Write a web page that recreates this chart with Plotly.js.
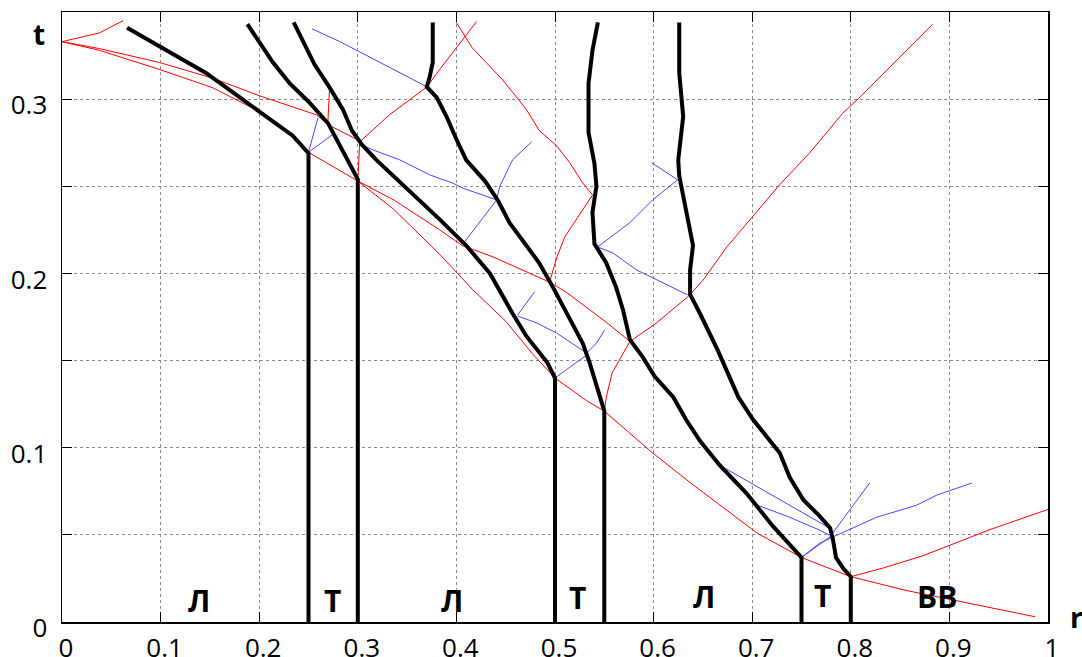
<!DOCTYPE html>
<html>
<head>
<meta charset="utf-8">
<script src="https://cdn.plot.ly/plotly-3.0.1.min.js"></script>
<style>html,body{margin:0;padding:0;background:#fff;}#chart{width:1082px;height:657px;}</style>
</head>
<body>
<div id="chart"></div>
<script>
// ---- Thick black boundaries (r, t) ----
const lineA_r = [0.066, 0.146, 0.173, 0.207, 0.234, 0.25, 0.25];
const lineA_t = [0.341, 0.315, 0.304, 0.290, 0.279, 0.269, 0];
const lineB_r = [0.188, 0.214, 0.231, 0.251, 0.270, 0.282, 0.292, 0.30, 0.30];
const lineB_t = [0.343, 0.321, 0.309, 0.298, 0.286, 0.273, 0.262, 0.254, 0];
const lineC_r = [0.235, 0.243, 0.256, 0.271, 0.285, 0.294, 0.304, 0.319, 0.342, 0.363, 0.383, 0.410, 0.434, 0.457, 0.471, 0.492, 0.50, 0.50];
const lineC_t = [0.344, 0.335, 0.320, 0.307, 0.294, 0.282, 0.274, 0.265, 0.253, 0.242, 0.231, 0.216, 0.200, 0.177, 0.164, 0.149, 0.140, 0];
const lineD_r = [0.376, 0.376, 0.373, 0.370, 0.380, 0.390, 0.400, 0.410, 0.429, 0.442, 0.454, 0.467, 0.484, 0.498, 0.512, 0.528, 0.535, 0.545, 0.55, 0.55];
const lineD_t = [0.344, 0.321, 0.313, 0.307, 0.301, 0.290, 0.277, 0.265, 0.253, 0.242, 0.229, 0.219, 0.206, 0.192, 0.177, 0.160, 0.149, 0.129, 0.121, 0];
const lineE_r = [0.5435, 0.538, 0.534, 0.534, 0.540, 0.542, 0.538, 0.540, 0.552, 0.562, 0.569, 0.576, 0.589, 0.601, 0.620, 0.633, 0.647, 0.667, 0.694, 0.721, 0.75, 0.75];
const lineE_t = [0.344, 0.328, 0.309, 0.281, 0.263, 0.250, 0.235, 0.217, 0.206, 0.192, 0.179, 0.162, 0.152, 0.141, 0.129, 0.116, 0.104, 0.090, 0.074, 0.055, 0.037, 0];
const lineF_r = [0.626, 0.626, 0.630, 0.625, 0.626, 0.633, 0.640, 0.637, 0.637, 0.647, 0.654, 0.665, 0.686, 0.701, 0.718, 0.728, 0.738, 0.752, 0.768, 0.779, 0.782, 0.785, 0.792, 0.80, 0.80];
const lineF_t = [0.344, 0.315, 0.290, 0.265, 0.256, 0.235, 0.216, 0.202, 0.188, 0.177, 0.169, 0.156, 0.129, 0.116, 0.104, 0.097, 0.083, 0.070, 0.061, 0.054, 0.047, 0.037, 0.031, 0.026, 0];

// ---- Thin red lines ----
const red1_r = [0, 0.038, 0.048, 0.062];
const red1_t = [0.333, 0.338, 0.341, 0.345];
const red2_r = [0, 0.038, 0.099, 0.153, 0.200, 0.258, 0.271, 0.302];
const red2_t = [0.333, 0.329, 0.321, 0.312, 0.302, 0.291, 0.285, 0.276];
const red3_r = [0, 0.038, 0.099, 0.153, 0.200, 0.231, 0.25, 0.30];
const red3_t = [0.333, 0.328, 0.317, 0.3065, 0.293, 0.2795, 0.2695, 0.253];
const redLow_r = [0.30, 0.324, 0.336, 0.383, 0.400, 0.416, 0.451, 0.477, 0.50, 0.532, 0.55, 0.599, 0.637, 0.670, 0.705, 0.75, 0.80, 0.857, 0.987];
const redLow_t = [0.253, 0.242, 0.237, 0.211, 0.201, 0.191, 0.172, 0.154, 0.140, 0.127, 0.121, 0.097, 0.080, 0.066, 0.051, 0.037, 0.026, 0.018, 0.003];
const redUp_r = [0.30, 0.337, 0.383, 0.406, 0.437, 0.467, 0.4945, 0.512, 0.552, 0.576];
const redUp_t = [0.253, 0.242, 0.225, 0.216, 0.2095, 0.202, 0.195, 0.189, 0.172, 0.161];
const redRise_r = [0.576, 0.603, 0.6345, 0.650, 0.674, 0.715, 0.728, 0.758, 0.792, 0.809, 0.883];
const redRise_t = [0.161, 0.1716, 0.1865, 0.196, 0.215, 0.242, 0.251, 0.269, 0.292, 0.301, 0.343];
const redDown_r = [0.576, 0.558, 0.552, 0.55];
const redDown_t = [0.161, 0.143, 0.129, 0.121];
const redArc_r = [0.400, 0.410, 0.416, 0.447, 0.471, 0.484, 0.502, 0.515, 0.528, 0.538, 0.528, 0.510, 0.502, 0.4945];
const redArc_t = [0.344, 0.335, 0.3295, 0.311, 0.294, 0.282, 0.273, 0.2635, 0.252, 0.245, 0.2365, 0.221, 0.2095, 0.195];
const redCross_r = [0.30, 0.302, 0.332, 0.370, 0.383, 0.4205];
const redCross_t = [0.253, 0.2755, 0.291, 0.307, 0.317, 0.3445];
const redShort_r = [0.2714, 0.2696];
const redShort_t = [0.3071, 0.2863];
const redRight_r = [0.80, 0.833, 0.873, 0.941, 1.0];
const redRight_t = [0.026, 0.031, 0.038, 0.053, 0.0646];

// ---- Thin blue lines ----
const blue1_r = [0.2534, 0.2815, 0.3694];
const blue1_t = [0.3404, 0.3331, 0.3073];
const blue2_r = [0.25, 0.2595];
const blue2_t = [0.2695, 0.2891];
const blue3_r = [0.25, 0.274];
const blue3_t = [0.2695, 0.2795];
const blue4_r = [0.3035, 0.3153, 0.3424, 0.3728, 0.3964, 0.4066, 0.4408];
const blue4_t = [0.2738, 0.2709, 0.2652, 0.2566, 0.2518, 0.2489, 0.2422];
const blue5_r = [0.4408, 0.4438, 0.4570, 0.4763];
const blue5_t = [0.2422, 0.2497, 0.2652, 0.2755];
const blue6_r = [0.4408, 0.4252, 0.4083];
const blue6_t = [0.2422, 0.2307, 0.2181];
const blue7_r = [0.4793, 0.4712, 0.4621];
const blue7_t = [0.1894, 0.1831, 0.1762];
const blue8_r = [0.4621, 0.4813, 0.5016, 0.5321];
const blue8_t = [0.1756, 0.1716, 0.1658, 0.1543];
const blue9_r = [0.5321, 0.5422, 0.5503];
const blue9_t = [0.1543, 0.1601, 0.1675];
const blue10_r = [0.5321, 0.50];
const blue10_t = [0.1532, 0.140];
const blue11_r = [0.5432, 0.5757, 0.5990, 0.6244];
const blue11_t = [0.2152, 0.2290, 0.2422, 0.2537];
const blue12_r = [0.6244, 0.5980];
const blue12_t = [0.2537, 0.2635];
const blue13_r = [0.5432, 0.5584, 0.5828, 0.6345];
const blue13_t = [0.2152, 0.2118, 0.2020, 0.1877];
const blue14_r = [0.667, 0.7786];
const blue14_t = [0.090, 0.0538];
const blue15_r = [0.7055, 0.7380, 0.7684, 0.7786];
const blue15_t = [0.0670, 0.0601, 0.0527, 0.0498];
const blue16_r = [0.75, 0.7786, 0.8191];
const blue16_t = [0.037, 0.0487, 0.0797];
const blue17_r = [0.75, 0.7684, 0.7816, 0.8262, 0.8668, 0.8871, 0.9226];
const blue17_t = [0.037, 0.0452, 0.0487, 0.0601, 0.0670, 0.0728, 0.0797];

// ---- Zone labels ----
const zoneLabels = ['Л', 'Т', 'Л', 'Т', 'Л', 'Т', 'ВВ'];
const zoneR = [0.1385, 0.2739, 0.3956, 0.5224, 0.6507, 0.7710, 0.8871];
const zoneT = [0.0125, 0.0125, 0.0125, 0.0138, 0.0144, 0.0153, 0.0144];

const xTickVals = [0, 0.1, 0.2, 0.3, 0.4, 0.5, 0.6, 0.7, 0.8, 0.9, 1];
const yTickVals = [0, 0.1, 0.2, 0.3];

function ln(r, t, color, width) {
  return {type: 'scatter', mode: 'lines', x: r, y: t,
          line: {color: color, width: width}, hoverinfo: 'skip', showlegend: false};
}
const RED = '#ff0000', BLUE = '#4646ff', BLACK = '#000000';
const traces = [
  ln(red1_r, red1_t, RED, 1), ln(red2_r, red2_t, RED, 1), ln(red3_r, red3_t, RED, 1),
  ln(redLow_r, redLow_t, RED, 1), ln(redUp_r, redUp_t, RED, 1), ln(redRise_r, redRise_t, RED, 1),
  ln(redDown_r, redDown_t, RED, 1), ln(redArc_r, redArc_t, RED, 1), ln(redCross_r, redCross_t, RED, 1),
  ln(redShort_r, redShort_t, RED, 1), ln(redRight_r, redRight_t, RED, 1),
  ln(blue1_r, blue1_t, BLUE, 1), ln(blue2_r, blue2_t, BLUE, 1), ln(blue3_r, blue3_t, BLUE, 1),
  ln(blue4_r, blue4_t, BLUE, 1), ln(blue5_r, blue5_t, BLUE, 1), ln(blue6_r, blue6_t, BLUE, 1),
  ln(blue7_r, blue7_t, BLUE, 1), ln(blue8_r, blue8_t, BLUE, 1), ln(blue9_r, blue9_t, BLUE, 1),
  ln(blue10_r, blue10_t, BLUE, 1), ln(blue11_r, blue11_t, BLUE, 1), ln(blue12_r, blue12_t, BLUE, 1),
  ln(blue13_r, blue13_t, BLUE, 1), ln(blue14_r, blue14_t, BLUE, 1), ln(blue15_r, blue15_t, BLUE, 1),
  ln(blue16_r, blue16_t, BLUE, 1), ln(blue17_r, blue17_t, BLUE, 1),
  ln(lineA_r, lineA_t, BLACK, 4), ln(lineB_r, lineB_t, BLACK, 4), ln(lineC_r, lineC_t, BLACK, 4),
  ln(lineD_r, lineD_t, BLACK, 4), ln(lineE_r, lineE_t, BLACK, 4), ln(lineF_r, lineF_t, BLACK, 4)
];

const annotations = zoneLabels.map((s, i) => ({
  x: zoneR[i], y: zoneT[i], xref: 'x', yref: 'y', text: s, showarrow: false,
  xanchor: 'center', yanchor: 'middle',
  font: {family: 'Open Sans', size: 30, color: '#000', weight: 'bold'}
}));
annotations.push({x: -0.0238, y: 0.9644, xref: 'paper', yref: 'paper', text: 't', showarrow: false,
  xanchor: 'center', yanchor: 'middle', font: {family: 'Open Sans', size: 28, color: '#000', weight: 'bold'}});
annotations.push({x: 1.0294, y: 0.0077, xref: 'paper', yref: 'paper', text: 'r', showarrow: false,
  xanchor: 'center', yanchor: 'middle', font: {family: 'Open Sans', size: 28, color: '#000', weight: 'bold'}});

const gridCol = '#8a8a8a';
const layout = {
  width: 1082, height: 657,
  margin: {l: 62, r: 34, t: 12, b: 35, pad: 0},
  paper_bgcolor: '#fff', plot_bgcolor: '#fff',
  showlegend: false,
  font: {family: 'Open Sans', size: 26, color: '#000'},
  xaxis: {
    range: [0, 1], tickvals: xTickVals, ticktext: xTickVals.map(String),
    ticks: 'inside', ticklen: 10, tickwidth: 1, tickcolor: '#000',
    showline: true, linecolor: '#000', linewidth: 1.5, mirror: 'ticks',
    showgrid: true, gridcolor: gridCol, griddash: 'dot', gridwidth: 1,
    zeroline: false, tickfont: {family: 'Open Sans', size: 26, color: '#000'},
    ticklabelstandoff: 2, ticklabelshift: 4, fixedrange: true
  },
  yaxis: {
    range: [0, 0.35], tickvals: yTickVals, ticktext: yTickVals.map(String),
    ticks: 'inside', ticklen: 10, tickwidth: 1, tickcolor: '#000',
    showline: true, linecolor: '#000', linewidth: 1.5, mirror: 'ticks',
    showgrid: true, gridcolor: gridCol, griddash: 'dot', gridwidth: 1,
    minor: {tick0: 0, dtick: 0.05, ticks: 'inside', ticklen: 10, tickcolor: '#000',
            showgrid: true, gridcolor: gridCol, griddash: 'dot', gridwidth: 1},
    zeroline: false, tickfont: {family: 'Open Sans', size: 26, color: '#000'},
    ticklabelstandoff: 8, ticklabelshift: 6, fixedrange: true
  },
  annotations: annotations
};

Plotly.newPlot('chart', traces, layout, {staticPlot: true, displayModeBar: false});
</script>
</body>
</html>
